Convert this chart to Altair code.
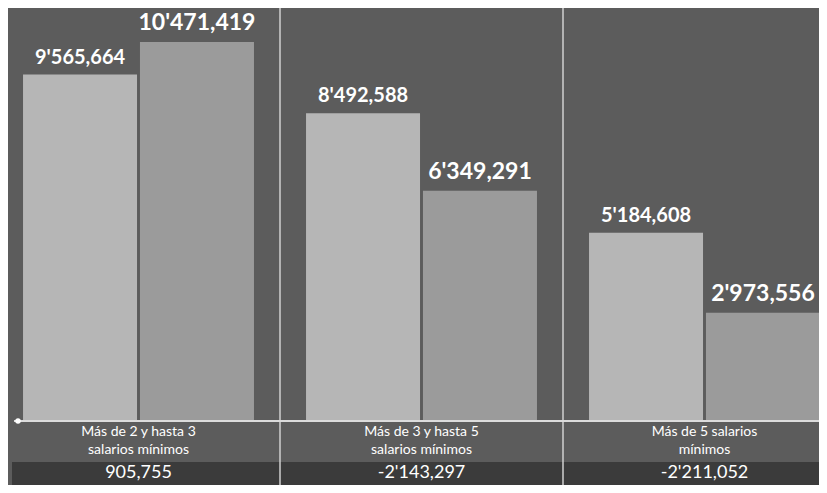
import altair as alt
import pandas as pd

groups = ["g1", "g2", "g3"]
cat_line1 = ["Más de 2 y hasta 3", "Más de 3 y hasta 5", "Más de 5 salarios"]
cat_line2 = ["salarios mínimos", "salarios mínimos", "mínimos"]
series = ["A", "B"]
values_a = [9565664, 8492588, 5184608]
values_b = [10471419, 6349291, 2973556]
labels_a = ["9'565,664", "8'492,588", "5'184,608"]
labels_b = ["10'471,419", "6'349,291", "2'973,556"]
diffs = ["905,755", "-2'143,297", "-2'211,052"]

rows = []
for i, g in enumerate(groups):
    rows.append({"group": g, "series": "A", "value": values_a[i], "label": labels_a[i]})
    rows.append({"group": g, "series": "B", "value": values_b[i], "label": labels_b[i]})
bars_df = pd.DataFrame(rows)
cats_df = pd.DataFrame({"group": groups, "l1": cat_line1, "l2": cat_line2, "diff": diffs})
sep_df = pd.DataFrame({"group": groups[1:]})

W, H = 811, 477
FONT = "Lato"

xscale = alt.Scale(domain=groups, range=[-11, 838], paddingInner=0, paddingOuter=0)
yscale = alt.Scale(domain=[0, 11410000], range=[412, 0], nice=False, zero=True)
xo_scale = alt.Scale(domain=series, paddingInner=0.02, paddingOuter=0.22)
X = alt.X("group:N", scale=xscale, axis=None)
XO = alt.XOffset("series:N", scale=xo_scale)
Y = alt.Y("value:Q", scale=yscale, axis=None)

bars = alt.Chart(bars_df).mark_bar(size=114).encode(
    x=X, xOffset=XO, y=Y,
    color=alt.Color("series:N", scale=alt.Scale(domain=series, range=["#b6b6b6", "#9b9b9b"]), legend=None),
)

bar_labels = alt.Chart(bars_df).mark_text(
    baseline="bottom", align="center", dy=-7, color="white", font=FONT, fontWeight="bold"
).encode(
    x=X, xOffset=XO, y=Y, text="label:N",
    size=alt.Size("series:N", scale=alt.Scale(domain=series, range=[20, 23]), legend=None),
)

band = alt.Chart(cats_df).mark_rect(color="#3b3b3b").encode(
    x=alt.value(4), x2=alt.value(W), y=alt.value(454), y2=alt.value(H)
)

baseline = alt.Chart(cats_df).mark_rule(color="#dcdcdc", strokeWidth=2).encode(
    x=alt.value(6), x2=alt.value(W), y=alt.value(413)
)
dot = alt.Chart(pd.DataFrame({"v": [0]})).mark_circle(color="white", size=30, opacity=1).encode(
    x=alt.value(10), y=alt.value(413)
)

seps = alt.Chart(sep_df).mark_rule(color="#d0d0d0", strokeWidth=1.5).encode(
    x=alt.X("group:N", scale=xscale, axis=None, bandPosition=0),
    y=alt.value(0), y2=alt.value(H),
)

cat1 = alt.Chart(cats_df).mark_text(color="white", fontSize=14, font=FONT, baseline="middle").encode(
    x=alt.X("group:N", scale=xscale, axis=None), y=alt.value(424), text="l1:N"
)
cat2 = alt.Chart(cats_df).mark_text(color="white", fontSize=14, font=FONT, baseline="middle").encode(
    x=alt.X("group:N", scale=xscale, axis=None), y=alt.value(442), text="l2:N"
)
diff_txt = alt.Chart(cats_df).mark_text(color="white", fontSize=18, font=FONT, baseline="middle").encode(
    x=alt.X("group:N", scale=xscale, axis=None), y=alt.value(465), text="diff:N"
)

chart = alt.layer(band, bars, bar_labels, seps, baseline, dot, cat1, cat2, diff_txt).properties(
    width=W, height=H, padding=0, autosize="none", background="#5c5c5c"
).configure_view(stroke=None)

chart.save("out.html", embed_options={"renderer": "svg", "actions": False})
